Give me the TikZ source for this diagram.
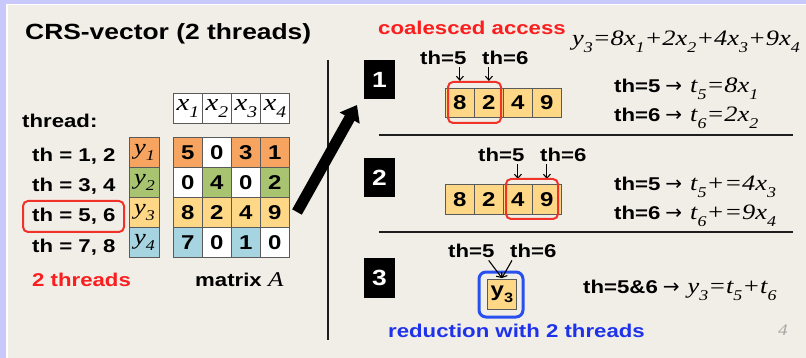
\documentclass[tikz,border=0pt]{standalone}
\usepackage{fontspec}
\usepackage{graphicx}
\setmainfont[FakeStretch=1.2]{Liberation Sans}
\newfontfamily\tms[FakeStretch=1.2]{Liberation Serif}
\newfontfamily\djv{DejaVu Sans}
\usetikzlibrary{arrows.meta}
\definecolor{bgc}{RGB}{241,238,231}
\definecolor{lav}{RGB}{200,200,250}
\definecolor{cO}{RGB}{246,164,96}
\definecolor{cG}{RGB}{168,196,112}
\definecolor{cY}{RGB}{254,216,134}
\definecolor{cB}{RGB}{166,212,224}
\definecolor{cline}{RGB}{90,90,90}
\definecolor{redC}{RGB}{240,50,40}
\definecolor{redT}{RGB}{250,30,30}
\definecolor{blueT}{RGB}{30,50,235}
\definecolor{blueC}{RGB}{40,80,240}
\definecolor{darkl}{RGB}{30,30,30}
\newcommand\mi[1]{{\tms\mdseries\itshape #1}}
\newcommand\sbs[1]{\raisebox{-0.28em}{\scalebox{0.68}{#1}}}
\newcommand\arr{\hspace{5pt}{\djv\mdseries\fontsize{20}{20}\selectfont →}\hspace{8pt}}
\begin{document}
\begin{tikzpicture}[x=1pt,y=-1pt,
  txt/.style={font=\bfseries\fontsize{18.5}{20}\selectfont, inner sep=0pt, anchor=base west},
  mth/.style={font=\tms\itshape\fontsize{22}{22}\selectfont},
  cell/.style={draw=cline, line width=0.8pt, minimum width=29pt, minimum height=30pt, inner sep=0pt, anchor=north west, font=\bfseries\fontsize{20}{20}\selectfont},
  redbox/.style={draw=redC, line width=2pt, rounded corners=5pt, inner sep=0pt},
  numbox/.style={fill=black, text=white, minimum width=31pt, minimum height=39pt, inner sep=0pt, font=\bfseries\fontsize{22}{22}\selectfont},
  tarrow/.style={line width=1.1pt, -{Straight Barb[length=4pt,width=7pt]}},
  hline/.style={line width=1.5pt, draw=darkl}
]
% background
\fill[bgc] (0,0) rectangle (806,358);
\fill[lav] (0,0) rectangle (806,4);
\fill[lav] (0,0) rectangle (6,358);
\fill[white] (6,4) rectangle (806,5.5);
\fill[white] (6,4) rectangle (8,358);
\useasboundingbox (0,0) rectangle (806,358);

% title
\node[txt, font=\bfseries\fontsize{22}{24}\selectfont] (title) at (25,40) {CRS-vector (2 threads)};

% left part
\node[txt] (thr) at (22,128) {thread:};
\node[txt] (r1) at (32,162) {th = 1, 2};
\node[txt] (r2) at (32,192) {th = 3, 4};
\node[txt] (r3) at (32,222) {th = 5, 6};
\node[txt] (r4) at (32,252) {th = 7, 8};
\node[redbox, minimum width=101pt, minimum height=31pt] (rb) at (73.5,216.5) {};

\foreach \i in {1,...,4}
  \node[cell, fill=white, font=\fontsize{24}{24}\selectfont] (x\i) at ({173+29*(\i-1)},93) {\mi{x\sbs{\i}}};

\foreach \r/\f in {1/cO,2/cG,3/cY,4/cB}
  \node[cell, fill=\f, minimum width=30pt, font=\fontsize{22}{22}\selectfont] (y\r) at (129,{137+30*(\r-1)}) {\mi{y\sbs{\r}}};

\foreach \r/\c/\v/\f in {1/1/5/cO,1/2/0/white,1/3/3/cO,1/4/1/cO,
                         2/1/0/white,2/2/4/cG,2/3/0/white,2/4/2/cG,
                         3/1/8/cY,3/2/2/cY,3/3/4/cY,3/4/9/cY,
                         4/1/7/cB,4/2/0/white,4/3/1/cB,4/4/0/white}
  \node[cell, fill=\f] (a\r\c) at ({173+29*(\c-1)},{137+30*(\r-1)}) {\v};

\node[txt, text=redT] (two) at (32,287) {2 threads};
\node[txt] (mA) at (195,287) {matrix \mi{\fontsize{21}{21}\selectfont A}};

% divider and big arrow
\coordinate (vt) at (328,60);
\coordinate (vb) at (328,340);
\draw[line width=2pt, draw=darkl] (vt) -- (vb);
\coordinate (ba1) at (297,212);
\coordinate (ba2) at (357,105);
\draw[line width=11pt, -{Triangle[length=15pt,width=22pt]}] (ba1) -- (ba2);

% right header
\node[txt, text=redT] (coal) at (378,35) {coalesced access};
\node[txt, mth] (eq) at (572,46) {y\sbs{3}=8x\sbs{1}+2x\sbs{2}+4x\sbs{3}+9x\sbs{4}};

% step 1
\node[numbox] (n1) at (379.5,79.5) {1};
\foreach \c/\v in {1/8,2/2,3/4,4/9}
  \node[cell, fill=cY, minimum height=29pt] (s1c\c) at ({445+29*(\c-1)},88) {\v};
\node[txt] (s1l5) at (420,65) {th=5};
\node[txt] (s1l6) at (482,65) {th=6};
\draw[tarrow] ([yshift=-2pt]s1c1.north |- s1l5.south) -- ([yshift=7pt]s1c1.north);
\draw[tarrow] ([yshift=-2pt]s1c2.north |- s1l6.south) -- ([yshift=7pt]s1c2.north);
\node[redbox, minimum width=53pt, minimum height=41pt] (s1r) at (474.5,102.5) {};
\node[txt] (s1a) at (614,93) {th=5\arr\mi{\fontsize{22}{22}\selectfont t\sbs{5}=8x\sbs{1}}};
\node[txt] (s1b) at (614,122) {th=6\arr\mi{\fontsize{22}{22}\selectfont t\sbs{6}=2x\sbs{2}}};

\coordinate (h1a) at (379,135);
\coordinate (h1b) at (793,135);
\draw[hline] (h1a) -- (h1b);

% step 2
\node[numbox] (n2) at (379.5,178) {2};
\foreach \c/\v in {1/8,2/2,3/4,4/9}
  \node[cell, fill=cY] (s2c\c) at ({445+29*(\c-1)},184) {\v};
\node[txt] (s2l5) at (478,162) {th=5};
\node[txt] (s2l6) at (540,162) {th=6};
\draw[tarrow] ([yshift=-2pt]s2c3.north |- s2l5.south) -- ([yshift=5pt]s2c3.north);
\draw[tarrow] ([yshift=-2pt]s2c4.north |- s2l6.south) -- ([yshift=5pt]s2c4.north);
\node[redbox, minimum width=52pt, minimum height=40pt] (s2r) at (532,199) {};
\node[txt] (s2a) at (614,191) {th=5\arr\mi{\fontsize{22}{22}\selectfont t\sbs{5}+=4x\sbs{3}}};
\node[txt] (s2b) at (614,220) {th=6\arr\mi{\fontsize{22}{22}\selectfont t\sbs{6}+=9x\sbs{4}}};

\coordinate (h2a) at (379,232);
\coordinate (h2b) at (793,232);
\draw[hline] (h2a) -- (h2b);

% step 3
\node[numbox] (n3) at (379.5,278) {3};
\node[txt] (s3l5) at (448,258) {th=5};
\node[txt] (s3l6) at (510,258) {th=6};
\node[cell, fill=cY] (y3b) at (487,279) {y\sbs{3}};
\node[draw=blueC, line width=3pt, rounded corners=7pt, minimum width=44pt, minimum height=45pt, inner sep=0pt] (bb) at (501,294.5) {};
\draw[tarrow] ([xshift=-6pt,yshift=-2pt]s3l5.south east) -- ([yshift=1pt]y3b.north);
\draw[tarrow] ([xshift=2pt,yshift=-2pt]s3l6.south west) -- ([yshift=1pt]y3b.north);
\node[txt] (s3a) at (583,294) {th=5\&6\arr\mi{\fontsize{22}{22}\selectfont y\sbs{3}=t\sbs{5}+t\sbs{6}}};
\node[txt, text=blueT] (red) at (388,337) {reduction with 2 threads};
\node[txt, font=\tms\itshape\fontsize{16}{16}\selectfont, text=black!35] (pg) at (778,335) {4};
\end{tikzpicture}
\end{document}
